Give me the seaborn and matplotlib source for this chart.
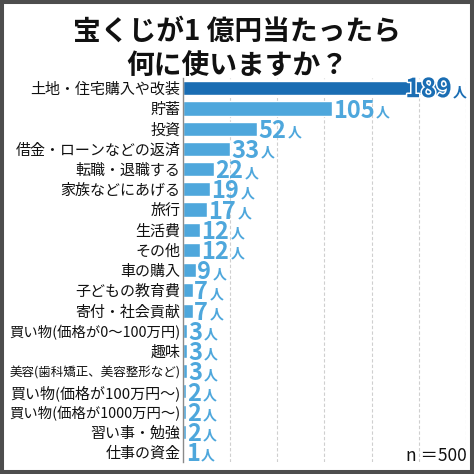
import numpy as np
import pandas as pd
import seaborn as sns
import matplotlib.pyplot as plt
import matplotlib.patheffects as pe
from matplotlib.patches import Rectangle

categories = [
    "土地・住宅購入や改装", "貯蓄", "投資", "借金・ローンなどの返済",
    "転職・退職する", "家族などにあげる", "旅行", "生活費", "その他",
    "車の購入", "子どもの教育費", "寄付・社会貢献",
    "買い物(価格が0〜100万円)", "趣味", "美容(歯科矯正、美容整形など)",
    "買い物(価格が100万円〜)", "買い物(価格が1000万円〜)",
    "習い事・勉強", "仕事の資金",
]
counts = [189, 105, 52, 33, 22, 19, 17, 12, 12, 9, 7, 7, 3, 3, 3, 2, 2, 2, 1]
title = "宝くじが1 億円当たったら\n何に使いますか？"
note = "n ＝500"
unit = "人"

TOP = "#1a6db3"
LIGHT = "#4ea7dc"

df = pd.DataFrame({"item": categories, "count": counts})

sns.set_theme(style="white")
plt.rcParams["font.family"] = ["Noto Sans CJK JP", "DejaVu Sans"]

fig = plt.figure(figsize=(4.74, 4.74), dpi=100)
fig.patch.set_facecolor("white")
ax = fig.add_axes([0.386, 0.025, 0.597, 0.81])

palette = [TOP] + [LIGHT] * (len(categories) - 1)
sns.barplot(data=df, x="count", y="item", hue="item", palette=palette,
            legend=False, width=0.7, orient="h", saturation=1, ax=ax)

ax.set_xlim(0, 200)
ax.set_xticks(np.linspace(0, 200, 7)[1:])
ax.grid(axis="x", linestyle=(0, (3, 2)), color="#cfcfcf", linewidth=0.8)
ax.grid(axis="y", visible=False)
ax.set_axisbelow(True)
ax.tick_params(axis="x", length=0, labelbottom=False)
ax.tick_params(axis="y", length=0, pad=2, labelsize=10.8, labelcolor="#111111")
ax.set_xlabel("")
ax.set_ylabel("")
for s in ["top", "right", "bottom"]:
    ax.spines[s].set_visible(False)
ax.spines["left"].set_color("#8a8a8a")
ax.spines["left"].set_linewidth(1)

# value labels: big number + small unit
for i, v in enumerate(counts):
    if i == 0:
        num = ax.annotate(str(v), xy=(v, i), xytext=(1, -1), textcoords="offset points",
                          ha="right", va="center", fontsize=19, weight="bold",
                          color=TOP)
        num.set_path_effects([pe.withStroke(linewidth=2.2, foreground="white")])
        col = TOP
    else:
        num = ax.annotate(str(v), xy=(v, i), xytext=(1, -1.5), textcoords="offset points",
                          ha="left", va="center", fontsize=17, weight="bold",
                          color=LIGHT)
        col = LIGHT
    ax.annotate(unit, xy=(1, 0.26), xycoords=num, xytext=(1, 0), textcoords="offset points",
                ha="left", va="baseline", fontsize=10, weight="bold", color=col)

fig.text(0.5, 0.962, title, ha="center", va="top", fontsize=20, weight="bold",
         color="#111111", linespacing=1.3)
fig.text(0.984, 0.018, note, ha="right", va="bottom", fontsize=12.5, color="#111111")

# shrink long category labels so they fit left of the axis
fig.canvas.draw()
renderer = fig.canvas.get_renderer()
avail = ax.get_window_extent(renderer).x0 - 12
for lab in ax.get_yticklabels():
    w = lab.get_window_extent(renderer).width
    if w > avail:
        lab.set_fontsize(lab.get_fontsize() * avail / w)

fig.add_artist(Rectangle((0, 0), 1, 1, transform=fig.transFigure, fill=False,
                         edgecolor="#4d4d4d", linewidth=5.8))

fig.savefig("out.png", dpi=100)
